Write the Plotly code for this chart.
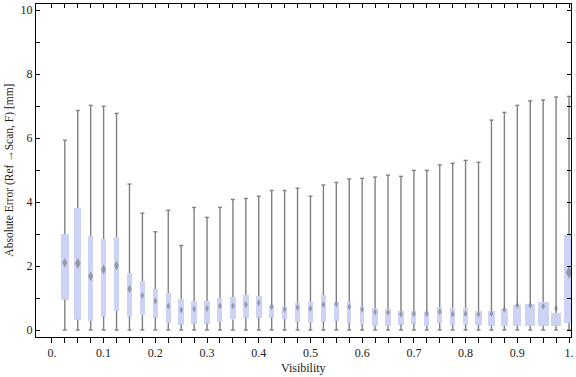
import plotly.graph_objects as go

# ---------------- data ----------------
visibility = [0.025, 0.05, 0.075, 0.1, 0.125, 0.15, 0.175, 0.2, 0.225, 0.25,
              0.275, 0.3, 0.325, 0.35, 0.375, 0.4, 0.425, 0.45, 0.475, 0.5,
              0.525, 0.55, 0.575, 0.6, 0.625, 0.65, 0.675, 0.7, 0.725, 0.75,
              0.775, 0.8, 0.825, 0.85, 0.875, 0.9, 0.925, 0.95, 0.975, 1.0]

err_min = [0.0] * 40

err_max = [5.93, 6.86, 7.02, 6.99, 6.77, 4.56, 3.65, 3.07, 3.74, 2.64,
           3.83, 3.52, 3.83, 4.08, 4.11, 4.18, 4.36, 4.36, 4.43, 4.18,
           4.53, 4.61, 4.72, 4.74, 4.78, 4.84, 4.80, 4.99, 4.99, 5.16,
           5.21, 5.30, 5.24, 6.56, 6.80, 7.02, 7.16, 7.19, 7.28, 7.30]

q3 = [3.00, 3.81, 2.94, 2.84, 2.91, 1.78, 1.53, 1.28, 1.16, 0.97,
      0.91, 0.91, 1.01, 1.03, 1.09, 1.06, 0.78, 0.75, 0.84, 0.875,
      1.09, 0.875, 0.875, 0.75, 0.69, 0.66, 0.59, 0.59, 0.56, 0.72,
      0.69, 0.69, 0.59, 0.59, 0.66, 0.78, 0.81, 0.875, 0.53, 2.97]

q1 = [0.95, 0.32, 0.29, 0.42, 0.60, 0.42, 0.47, 0.39, 0.23, 0.17,
      0.20, 0.20, 0.26, 0.33, 0.39, 0.39, 0.39, 0.35, 0.26, 0.23,
      0.26, 0.29, 0.23, 0.17, 0.135, 0.135, 0.17, 0.20, 0.135, 0.23,
      0.17, 0.17, 0.17, 0.135, 0.135, 0.135, 0.135, 0.135, 0.135, 0.23]

median = [2.10, 2.08, 1.68, 1.89, 2.01, 1.28, 1.08, 0.91, 0.75, 0.625,
          0.66, 0.67, 0.76, 0.76, 0.80, 0.85, 0.73, 0.64, 0.70, 0.67,
          0.79, 0.81, 0.73, 0.64, 0.56, 0.55, 0.49, 0.51, 0.51, 0.57,
          0.50, 0.51, 0.49, 0.51, 0.64, 0.77, 0.77, 0.74, 0.67, 1.80]

x_tick_values = [0.0, 0.1, 0.2, 0.3, 0.4, 0.5, 0.6, 0.7, 0.8, 0.9, 1.0]
x_tick_labels = ["0.", "0.1", "0.2", "0.3", "0.4", "0.5", "0.6", "0.7", "0.8", "0.9", "1."]
y_tick_values = [0, 2, 4, 6, 8, 10]
y_tick_labels = ["0", "2", "4", "6", "8", "10"]

# ---------------- style ----------------
PX = 1.0 / 520.0   # one pixel in x data units
box_px = [8, 7, 5, 5, 5, 5, 4.5, 5, 5, 6, 6, 6, 5, 5.7, 6, 6, 5, 5, 5, 5,
          5, 5, 4.5, 4.5, 6, 6, 6, 5, 5, 5, 5, 5, 7, 7, 7, 8, 10, 11, 10.5, 10]
marker_sz = [7, 8, 7, 7, 7, 6, 5, 5, 5, 5, 5, 5, 5, 5, 5, 5, 5, 5, 5, 5,
             5, 5, 5, 5, 5, 5, 5, 5, 5, 5, 5, 5, 5, 5, 5, 5, 5, 5, 5, 9]
BOX_COLOR = "#cdd3f5"
WHISK_COLOR = "#808080"
FONT = "Liberation Serif, Times New Roman, serif"
cap = 2 * PX

# whiskers (drawn outside the box) and caps
wx, wy = [], []
for x, lo, a, b, hi in zip(visibility, err_min, q1, q3, err_max):
    wx += [x, x, None, x, x, None, x - cap, x + cap, None, x - cap, x + cap, None]
    wy += [lo, a, None, b, hi, None, lo, lo, None, hi, hi, None]

fig = go.Figure()
fig.add_trace(go.Scatter(x=wx, y=wy, mode="lines",
                         line=dict(color=WHISK_COLOR, width=1.4),
                         hoverinfo="skip", showlegend=False))
fig.add_trace(go.Bar(x=visibility,
                     y=[b - a for a, b in zip(q1, q3)],
                     base=q1,
                     width=[w * PX for w in box_px],
                     marker=dict(color=BOX_COLOR, line=dict(width=0)),
                     showlegend=False))
fig.add_trace(go.Scatter(x=visibility, y=median, mode="markers",
                         marker=dict(symbol="diamond-tall", size=marker_sz,
                                     color="rgba(105,105,105,0.8)",
                                     line=dict(width=0)),
                         showlegend=False))
# invisible trace to anchor the top axis
fig.add_trace(go.Scatter(x=[0.5], y=[5], xaxis="x2", mode="markers",
                         marker=dict(opacity=0), hoverinfo="skip", showlegend=False))

all_x_ticks = [round(i * 0.025, 3) for i in range(41)]
x_text = []
for t in all_x_ticks:
    lab = ""
    for v, l in zip(x_tick_values, x_tick_labels):
        if abs(v - t) < 1e-9:
            lab = l
    x_text.append(lab)

xr = [-16 * PX, 522 * PX]
yr = [-7 / 32, 326 / 32]

fig.update_layout(
    width=576, height=377,
    margin=dict(l=36, r=2, t=4, b=40),
    paper_bgcolor="white", plot_bgcolor="white",
    bargap=0,
    font=dict(family=FONT, size=12, color="#222"),
    xaxis=dict(range=xr, tickmode="array", tickvals=all_x_ticks, ticktext=x_text,
               ticks="outside", ticklen=5, tickwidth=1, tickcolor="black",
               showline=True, linecolor="black", linewidth=1, mirror=False,
               showgrid=False, zeroline=False, ticklabeloverflow="allow",
               tickfont=dict(family=FONT, size=12, color="#222")),
    xaxis2=dict(range=xr, overlaying="x", side="top", tickmode="array",
                tickvals=all_x_ticks, ticks="inside", ticklen=4, tickwidth=1,
                tickcolor="black", showticklabels=False, showline=True,
                linecolor="black", linewidth=1, showgrid=False, zeroline=False),
    yaxis=dict(range=yr, tickmode="array", tickvals=y_tick_values, ticktext=y_tick_labels,
               ticks="inside", ticklen=4, tickwidth=1, tickcolor="black",
               minor=dict(tickvals=[1, 3, 5, 7, 9], ticks="inside", ticklen=2.5,
                          tickwidth=1, tickcolor="black", showgrid=False),
               showline=True, linecolor="black", linewidth=1, mirror="allticks",
               showgrid=False, zeroline=False,
               tickfont=dict(family=FONT, size=12, color="#222")),
    annotations=[
        dict(text="Visibility", xref="paper", yref="paper", x=0.5,
             y=-(368 - 337) / 333, xanchor="center", yanchor="middle",
             showarrow=False, font=dict(family=FONT, size=12, color="#222")),
        dict(text="Absolute Error (Ref →Scan, F) [mm]", xref="paper", yref="paper",
             x=(9 - 36) / 538, y=0.5, xanchor="center", yanchor="middle",
             textangle=-90, showarrow=False,
             font=dict(family=FONT, size=11.5, color="#222")),
    ],
)

fig.write_html("out.html", config={"displayModeBar": False},
               post_script="document.body.style.margin='0';document.body.style.padding='0';")
